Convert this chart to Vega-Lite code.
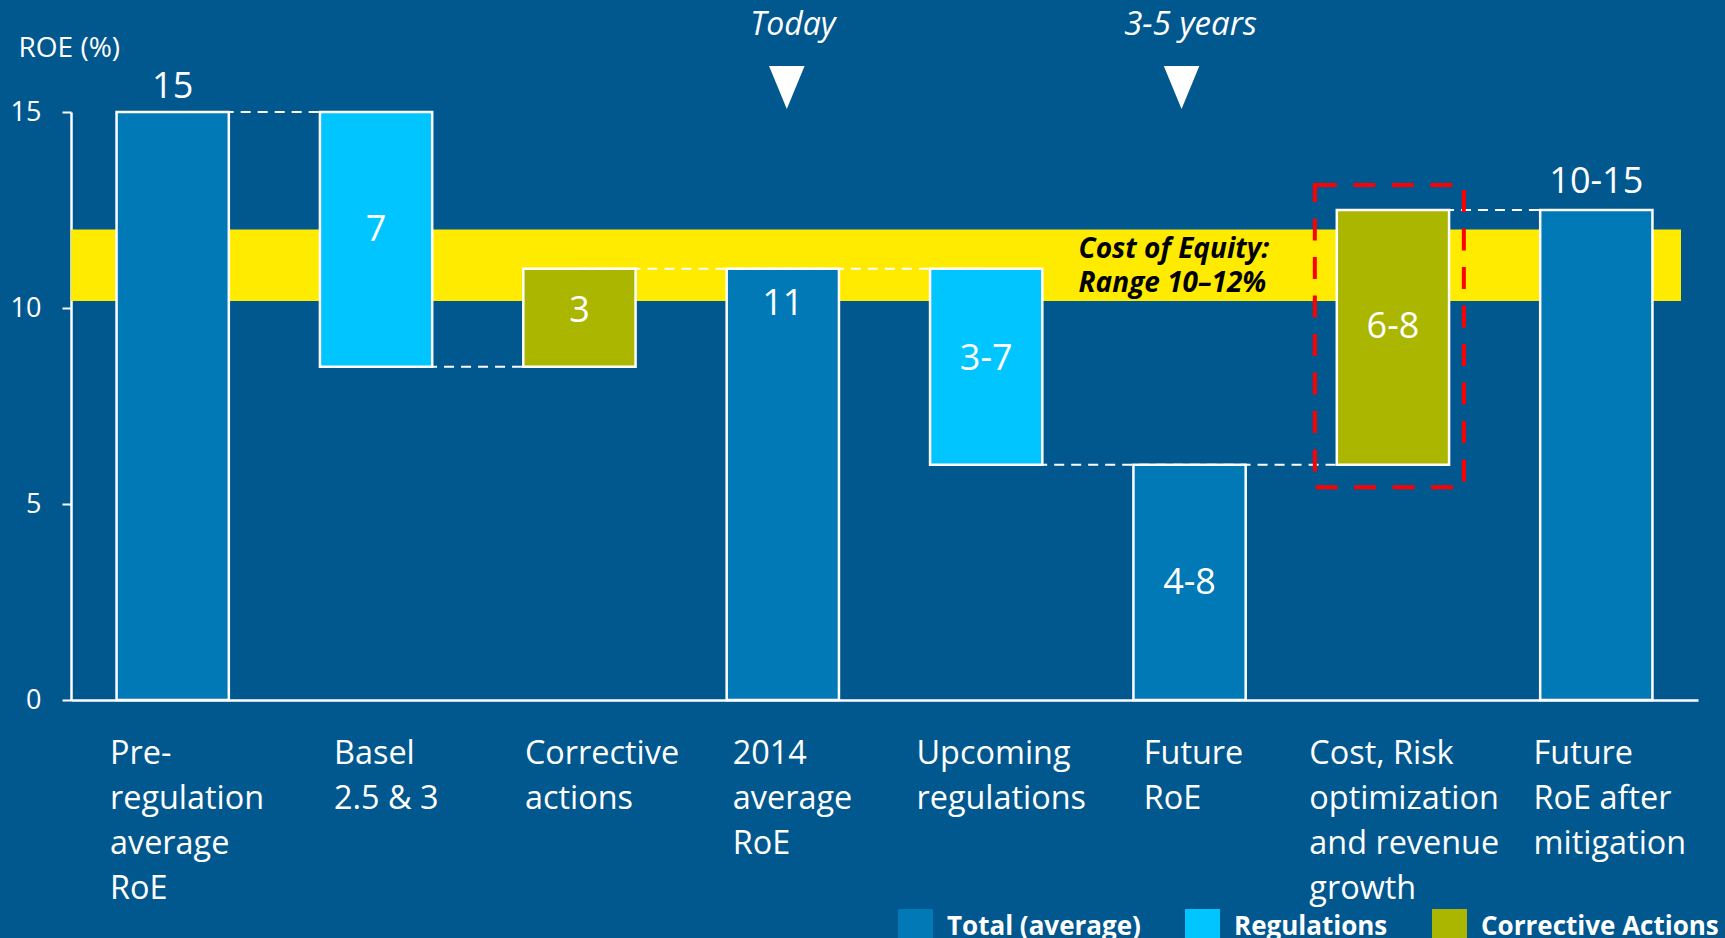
{
  "$schema": "https://vega.github.io/schema/vega-lite/v6.json",
  "width": 1627,
  "height": 588,
  "autosize": {"type": "none"},
  "padding": {"left": 71, "top": 112, "right": 27, "bottom": 238},
  "background": "#01588f",
  "config": {"view": {"stroke": null}, "font": "Open Sans"},
  "datasets": {
    "bars": [
      {"cat": "Pre-\nregulation\naverage\nRoE", "lo": 0, "hi": 15, "type": "Total (average)", "label": "15", "label_y": 15.64},
      {"cat": "Basel\n2.5 & 3", "lo": 8.5, "hi": 15, "type": "Regulations", "label": "7", "label_y": 11.98},
      {"cat": "Corrective\nactions", "lo": 8.5, "hi": 11, "type": "Corrective Actions", "label": "3", "label_y": 9.92},
      {"cat": "2014\naverage\nRoE", "lo": 0, "hi": 11, "type": "Total (average)", "label": "11", "label_y": 10.11},
      {"cat": "Upcoming\nregulations", "lo": 6, "hi": 11, "type": "Regulations", "label": "3-7", "label_y": 8.71},
      {"cat": "Future\nRoE", "lo": 0, "hi": 6, "type": "Total (average)", "label": "4-8", "label_y": 2.99},
      {"cat": "Cost, Risk\noptimization\nand revenue\ngrowth", "lo": 6, "hi": 12.5, "type": "Corrective Actions", "label": "6-8", "label_y": 9.52},
      {"cat": "Future\nRoE after\nmitigation", "lo": 0, "hi": 12.5, "type": "Total (average)", "label": "10-15", "label_y": 13.21}
    ],
    "steps": [
      {"cat": "Pre-\nregulation\naverage\nRoE", "cat2": "Basel\n2.5 & 3", "level": 15},
      {"cat": "Basel\n2.5 & 3", "cat2": "Corrective\nactions", "level": 8.5},
      {"cat": "Corrective\nactions", "cat2": "2014\naverage\nRoE", "level": 11},
      {"cat": "2014\naverage\nRoE", "cat2": "Upcoming\nregulations", "level": 11},
      {"cat": "Upcoming\nregulations", "cat2": "Future\nRoE", "level": 6},
      {"cat": "Future\nRoE", "cat2": "Cost, Risk\noptimization\nand revenue\ngrowth", "level": 6},
      {"cat": "Cost, Risk\noptimization\nand revenue\ngrowth", "cat2": "Future\nRoE after\nmitigation", "level": 12.5}
    ]
  },
  "encoding": {
    "x": {
      "field": "cat",
      "type": "nominal",
      "sort": null,
      "scale": {
        "domain": [
          "Pre-\nregulation\naverage\nRoE",
          "Basel\n2.5 & 3",
          "Corrective\nactions",
          "2014\naverage\nRoE",
          "Upcoming\nregulations",
          "Future\nRoE",
          "Cost, Risk\noptimization\nand revenue\ngrowth",
          "Future\nRoE after\nmitigation"
        ],
        "paddingInner": 0.448,
        "paddingOuter": 0.224
      },
      "axis": {
        "title": null,
        "domainColor": "white",
        "domainWidth": 2.5,
        "ticks": false,
        "tickSize": 0,
        "grid": false,
        "labelAngle": 0,
        "labelAlign": "left",
        "labelBaseline": "top",
        "labelPadding": 37,
        "labelFont": "Open Sans",
        "labelFontSize": 32.4,
        "labelColor": "white",
        "labelLineHeight": 45,
        "labelLimit": 400,
        "labelOverlap": false,
        "labelFlush": false,
        "labelOffset": {
          "condition": [
            {"test": "indexof(datum.value, 'Basel') == 0", "value": -42},
            {"test": "indexof(datum.value, 'Corrective') == 0", "value": -54.5},
            {"test": "indexof(datum.value, '2014') == 0", "value": -50},
            {"test": "indexof(datum.value, 'Upcoming') == 0", "value": -69.7},
            {"test": "indexof(datum.value, 'after') >= 0", "value": -62.7},
            {"test": "indexof(datum.value, 'Future') == 0", "value": -45.7},
            {"test": "indexof(datum.value, 'Cost') == 0", "value": -83.6}
          ],
          "value": -62.7
        },
        "labelExpr": "split(datum.label, '\\n')"
      }
    }
  },
  "layer": [
    {
      "data": {"values": [{"from": 10.18, "to": 12}]},
      "mark": {"type": "rect", "fill": "#ffeb00", "x2Offset": -17},
      "encoding": {
        "x": {"value": 0},
        "x2": {"value": "width"},
        "y": {"field": "from", "type": "quantitative"},
        "y2": {"field": "to"}
      }
    },
    {
      "data": {"name": "steps"},
      "mark": {"type": "rule", "color": "white", "strokeWidth": 2, "strokeDash": [10, 7]},
      "encoding": {
        "x2": {"field": "cat2"},
        "y": {"field": "level", "type": "quantitative"}
      }
    },
    {
      "data": {"name": "bars"},
      "mark": {"type": "bar", "stroke": "white", "strokeWidth": 2.5, "opacity": 1},
      "encoding": {
        "y": {
          "field": "lo",
          "type": "quantitative",
          "scale": {"domain": [0, 15], "nice": false, "zero": true},
          "axis": {
            "title": "ROE (%)",
            "values": [0, 5, 10, 15],
            "grid": false,
            "domainColor": "white",
            "domainWidth": 2.5,
            "tickColor": "white",
            "tickWidth": 2,
            "tickSize": 9,
            "labelPadding": 21,
            "labelFont": "Open Sans",
            "labelFontSize": 27,
            "labelColor": "white",
            "titleAngle": 0,
            "titleAlign": "left",
            "titleBaseline": "middle",
            "titleX": -53,
            "titleY": -64,
            "titleFont": "Open Sans",
            "titleFontSize": 28,
            "titleFontWeight": "normal",
            "titleColor": "white"
          }
        },
        "y2": {"field": "hi"},
        "color": {
          "field": "type",
          "type": "nominal",
          "scale": {
            "domain": ["Total (average)", "Regulations", "Corrective Actions"],
            "range": ["#0079b6", "#00c5ff", "#aab600"]
          },
          "legend": {
            "title": null,
            "orient": "none",
            "legendX": 827,
            "legendY": 797,
            "direction": "horizontal",
            "padding": 0,
            "symbolType": "square",
            "symbolSize": 1225,
            "symbolStrokeWidth": 0,
            "symbolOpacity": 1,
            "labelFont": "Open Sans",
            "labelFontSize": 26,
            "labelFontWeight": "bold",
            "labelColor": "white",
            "labelOffset": 14,
            "columnPadding": 44,
            "labelLimit": 400
          }
        }
      }
    },
    {
      "data": {"values": [{"cat": "Cost, Risk\noptimization\nand revenue\ngrowth", "lo": 5.43, "hi": 13.14}]},
      "mark": {"type": "bar", "width": 149, "xOffset": -3.6, "fill": "transparent", "stroke": "#ff0000", "strokeWidth": 4, "strokeDash": [22, 16.5]},
      "encoding": {
        "y": {"field": "lo", "type": "quantitative"},
        "y2": {"field": "hi"}
      }
    },
    {
      "data": {"name": "bars"},
      "mark": {"type": "text", "font": "Open Sans", "fontSize": 36, "color": "white", "align": "center", "baseline": "middle"},
      "encoding": {
        "y": {"field": "label_y", "type": "quantitative"},
        "text": {"field": "label", "type": "nominal"}
      }
    },
    {
      "data": {"values": [{"cat": "2014\naverage\nRoE", "note": "Today", "y": 16.96}]},
      "mark": {"type": "text", "font": "Open Sans", "fontSize": 32, "fontStyle": "italic", "color": "white", "align": "center", "baseline": "alphabetic", "dx": 10},
      "encoding": {
        "y": {"field": "y", "type": "quantitative"},
        "text": {"field": "note", "type": "nominal"}
      }
    },
    {
      "data": {"values": [{"cat": "Future\nRoE", "note": "3-5 years", "y": 16.96}]},
      "mark": {"type": "text", "font": "Open Sans", "fontSize": 33, "fontStyle": "italic", "color": "white", "align": "center", "baseline": "alphabetic", "dx": 1},
      "encoding": {
        "y": {"field": "y", "type": "quantitative"},
        "text": {"field": "note", "type": "nominal"}
      }
    },
    {
      "data": {"values": [{"cat": "2014\naverage\nRoE", "y": 15.625}]},
      "mark": {"type": "point", "shape": "M-0.826,-1L0.826,-1L0,1Z", "size": 1849, "filled": true, "color": "white", "opacity": 1, "strokeWidth": 0, "xOffset": 4},
      "encoding": {
        "y": {"field": "y", "type": "quantitative"}
      }
    },
    {
      "data": {"values": [{"cat": "Future\nRoE", "y": 15.625}]},
      "mark": {"type": "point", "shape": "M-0.826,-1L0.826,-1L0,1Z", "size": 1849, "filled": true, "color": "white", "opacity": 1, "strokeWidth": 0, "xOffset": -8},
      "encoding": {
        "y": {"field": "y", "type": "quantitative"}
      }
    },
    {
      "data": {"values": [{"cat": "Future\nRoE", "note": "Cost of Equity:\nRange 10–12%", "y": 11.47}]},
      "mark": {"type": "text", "font": "Open Sans", "fontSize": 28, "fontStyle": "italic", "fontWeight": "bold", "color": "black", "align": "left", "baseline": "middle", "lineBreak": "\n", "lineHeight": 34, "dx": -111},
      "encoding": {
        "y": {"field": "y", "type": "quantitative"},
        "text": {"field": "note", "type": "nominal"}
      }
    }
  ]
}
